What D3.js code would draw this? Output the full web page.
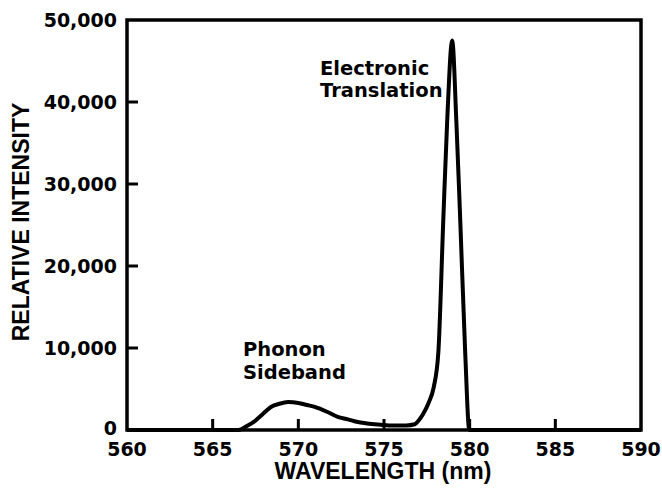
<!DOCTYPE html>
<html lang="en">
<head>
  <meta charset="UTF-8">
  <title>Relative Intensity vs Wavelength</title>
  <script src="https://d3js.org/d3.v7.min.js"></script>
  <style>
    body { margin: 0; background: #fff; }
    .tick-label {
      font-family: "DejaVu Sans", sans-serif;
      font-weight: bold;
      font-size: 19px;
      fill: #000;
    }
    .axis-title {
      font-family: "Liberation Sans", Arial, sans-serif;
      font-weight: bold;
      font-size: 23px;
      fill: #000;
    }
    .note {
      font-family: "DejaVu Sans", sans-serif;
      font-weight: bold;
      font-size: 19.5px;
      fill: #000;
    }
  </style>
</head>
<body>
  <div id="chart"></div>

  <script>
    // spectrum
    const wavelength = [560, 566.5, 567.0, 567.4, 567.9, 568.4, 568.9, 569.4, 570.0, 570.5,
                        571.0, 571.7, 572.3, 572.9, 573.4, 574.0, 574.8, 575.5, 576.3, 576.8,
                        577.0, 577.3, 577.6, 577.9, 578.17, 578.46, 578.69, 578.98, 579.22,
                        579.45, 579.74, 579.98, 590];
    const intensity  = [0, 0, 500, 1000, 1900, 2800, 3200, 3400, 3300, 3050,
                        2800, 2200, 1600, 1300, 1000, 800, 650, 550, 550, 700,
                        1100, 2000, 3300, 5200, 9400, 25600, 37800, 47500, 37800,
                        25600, 9400, 0, 0];

    const xTicks = [560, 565, 570, 575, 580, 585, 590];
    const yTicks = [0, 10000, 20000, 30000, 40000, 50000];

    const data = wavelength.map((w, i) => ({ w: w, v: intensity[i] }));

    const W = 662, H = 489;
    const m = { left: 127, right: 641, top: 20, bottom: 430 };

    const svg = d3.select("#chart")
                  .append("svg")
                  .attr("width", W)
                  .attr("height", H);

    const x = d3.scaleLinear().domain([560, 590]).range([m.left, m.right]);
    const y = d3.scaleLinear().domain([0, 50000]).range([m.bottom, m.top]);

    // frame
    svg.append("rect")
       .attr("x", m.left)
       .attr("y", m.top)
       .attr("width", m.right - m.left)
       .attr("height", m.bottom - m.top)
       .attr("fill", "none")
       .attr("stroke", "#000")
       .attr("stroke-width", 3.5);

    // inward ticks
    svg.selectAll(".xt")
       .data(xTicks.slice(1, -1))
       .enter()
       .append("line")
       .attr("x1", d => x(d)).attr("x2", d => x(d))
       .attr("y1", m.bottom).attr("y2", m.bottom - 11)
       .attr("stroke", "#000").attr("stroke-width", 3);

    svg.selectAll(".yt")
       .data(yTicks.slice(1, -1))
       .enter()
       .append("line")
       .attr("x1", m.left).attr("x2", m.left + 11)
       .attr("y1", d => y(d)).attr("y2", d => y(d))
       .attr("stroke", "#000").attr("stroke-width", 3);

    // tick labels
    svg.selectAll(".xl")
       .data(xTicks)
       .enter()
       .append("text")
       .attr("class", "tick-label")
       .attr("x", d => x(d))
       .attr("y", 456)
       .attr("text-anchor", "middle")
       .text(d => d);

    svg.selectAll(".yl")
       .data(yTicks)
       .enter()
       .append("text")
       .attr("class", "tick-label")
       .attr("x", 117)
       .attr("y", d => y(d) + (d === 0 ? 5 : 7))
       .attr("text-anchor", "end")
       .text(d => d3.format(",")(d));

    // curve
    const line = d3.line()
                   .x(d => x(d.w))
                   .y(d => y(d.v))
                   .curve(d3.curveMonotoneX);

    svg.append("path")
       .datum(data)
       .attr("fill", "none")
       .attr("stroke", "#000")
       .attr("stroke-width", 4)
       .attr("stroke-linejoin", "round")
       .attr("d", line);

    // axis titles
    svg.append("text")
       .attr("class", "axis-title")
       .attr("x", 383)
       .attr("y", 479)
       .attr("text-anchor", "middle")
       .text("WAVELENGTH (nm)");

    svg.append("text")
       .attr("class", "axis-title")
       .attr("transform", "translate(29,222) rotate(-90)")
       .attr("text-anchor", "middle")
       .text("RELATIVE INTENSITY");

    // annotations
    const notes = [
      { t: "Electronic", x: 320, y: 75 },
      { t: "Translation", x: 320, y: 97 },
      { t: "Phonon", x: 243, y: 356 },
      { t: "Sideband", x: 243, y: 379 }
    ];
    svg.selectAll(".note")
       .data(notes)
       .enter()
       .append("text")
       .attr("class", "note")
       .attr("x", d => d.x)
       .attr("y", d => d.y)
       .text(d => d.t);
  </script>
</body>
</html>
